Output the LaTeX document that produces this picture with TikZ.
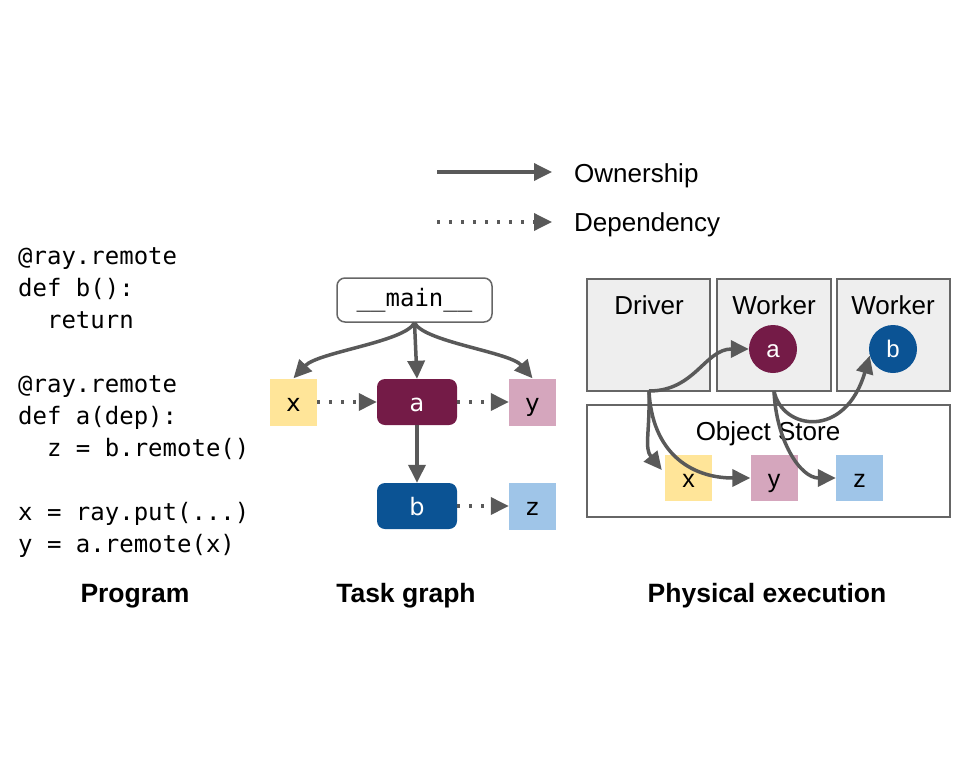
\documentclass[tikz,border=0pt]{standalone}
\usepackage{fontspec}
\setmainfont{Liberation Sans}
\newfontfamily\codefont{DejaVu Sans Mono}
\newfontfamily\dvs{DejaVu Sans}
\usetikzlibrary{arrows.meta}
\definecolor{arrgray}{HTML}{595959}
\definecolor{boxgray}{HTML}{666666}
\definecolor{panel}{HTML}{EEEEEE}
\definecolor{cx}{HTML}{FFE599}
\definecolor{cy}{HTML}{D5A6BD}
\definecolor{cz}{HTML}{9FC5E8}
\definecolor{ca}{HTML}{741B47}
\definecolor{cb}{HTML}{0B5394}
\begin{document}
\begin{tikzpicture}[x=1pt,y=-1pt,
  own/.style={draw=arrgray, line width=3.5pt, -{Triangle[length=18pt,width=17pt]}},
  dep/.style={draw=arrgray, line width=3.5pt, dash pattern=on 3pt off 9pt, -{Triangle[length=18pt,width=17pt]}},
  legtxt/.style={anchor=west, inner sep=0pt, text height=18.7pt, text depth=0pt, font=\fontsize{26pt}{30pt}\selectfont},
  codeline/.style={anchor=base west, inner sep=0pt, font=\codefont\fontsize{24pt}{28pt}\selectfont},
  caption/.style={inner sep=0pt, text height=19pt, text depth=0pt, font=\bfseries\fontsize{26.5pt}{30pt}\selectfont},
  sq/.style={inner sep=0pt, minimum width=47pt, minimum height=47pt, text height=19pt, text depth=0pt, font=\dvs\fontsize{24pt}{28pt}\selectfont},
  tsk/.style={inner sep=0pt, minimum width=80pt, minimum height=46pt, rounded corners=8pt, text=white, text height=19pt, text depth=0pt, font=\dvs\fontsize{24pt}{28pt}\selectfont},
  psq/.style={inner sep=0pt, minimum width=47pt, minimum height=46pt, text height=18.5pt, text depth=0pt, font=\fontsize{25pt}{30pt}\selectfont},
  pan/.style={draw=boxgray, line width=1.5pt, fill=panel},
  ptxt/.style={inner sep=0pt, text height=18.7pt, text depth=0pt, font=\fontsize{26pt}{30pt}\selectfont},
  circ/.style={circle, inner sep=0pt, minimum size=48pt, text=white, text height=17pt, text depth=0pt, font=\fontsize{24pt}{28pt}\selectfont}
]
\useasboundingbox (0,0) rectangle (960,768);

% legend
\coordinate (l1s) at (437,172);
\coordinate (l1e) at (552,172);
\coordinate (l2s) at (437,222);
\coordinate (l2e) at (552,222);
\draw[own] (l1s) -- (l1e);
\draw[dep] (l2s) -- (l2e);
\node[legtxt] (lown) at (574,173) {Ownership};
\node[legtxt] (ldep) at (574,222) {Dependency};

% code
\node[codeline] (c1) at (18,264) {@ray.remote};
\node[codeline] (c2) at (18,296) {def b():};
\node[codeline] (c3) at (18,328) {\ \ return};
\node[codeline] (c4) at (18,392) {@ray.remote};
\node[codeline] (c5) at (18,424) {def a(dep):};
\node[codeline] (c6) at (18,456) {\ \ z = b.remote()};
\node[codeline] (c7) at (18,520) {x = ray.put(...)};
\node[codeline] (c8) at (18,552) {y = a.remote(x)};

% task graph
\node[draw=boxgray, line width=1.5pt, rounded corners=8pt, minimum width=155pt, minimum height=44pt, inner sep=0pt, font=\codefont\fontsize{24pt}{28pt}\selectfont] (main) at (414.5,300) {\_\_main\_\_};
\node[sq, fill=cx] (tx) at (293.5,402) {x};
\node[tsk, fill=ca] (ta) at (417,402) {a};
\node[sq, fill=cy] (ty) at (532.5,402) {y};
\node[tsk, fill=cb] (tb) at (417,506) {b};
\node[sq, fill=cz] (tz) at (532.5,506) {z};

\draw[own] (main.south) .. controls (405,342) and (318,352) .. (tx.north);
\draw[own] (main.south) -- (ta.north);
\draw[own] (main.south) .. controls (424,342) and (510,352) .. (ty.north);
\draw[own] (ta.south) -- (tb.north);
\draw[dep] (tx.east) -- (ta.west);
\draw[dep] (ta.east) -- (ty.west);
\draw[dep] (tb.east) -- (tz.west);

% physical execution
\path[pan] (587,279) rectangle (710,391);
\path[pan] (717,279) rectangle (831,391);
\path[pan] (837,279) rectangle (950,391);
\draw[boxgray, line width=1.5pt, fill=white] (587,405) rectangle (950,517);
\coordinate (drv) at (649,391);
\coordinate (wk1) at (774,391);
\node[ptxt] (tdrv) at (649,305) {Driver};
\node[ptxt] (tw1) at (774,305) {Worker};
\node[ptxt] (tw2) at (893,305) {Worker};
\node[ptxt] (tos) at (768,431) {Object Store};
\node[circ, fill=ca] (pa) at (773,349) {a};
\node[circ, fill=cb] (pb) at (893,349) {b};
\node[psq, fill=cx] (px) at (688.5,478) {x};
\node[psq, fill=cy] (py) at (774,478) {y};
\node[psq, fill=cz] (pz) at (859.5,478) {z};

\draw[own] (drv) .. controls (695,391) and (705,349) .. (pa.west);
\draw[own] (drv) .. controls (650,432) and (644,448) .. ([xshift=-3pt,yshift=8pt]px.west);
\draw[own] (drv) .. controls (652,452) and (690,478) .. (py.west);
\draw[own] (wk1) .. controls (776,440) and (800,478) .. (pz.west);
\draw[own] (wk1) .. controls (782,430) and (845,440) .. (pb.196);

% captions
\node[caption] (cap1) at (135,593) {Program};
\node[caption] (cap2) at (406,593) {Task graph};
\node[caption] (cap3) at (767,593) {Physical execution};
\end{tikzpicture}
\end{document}
